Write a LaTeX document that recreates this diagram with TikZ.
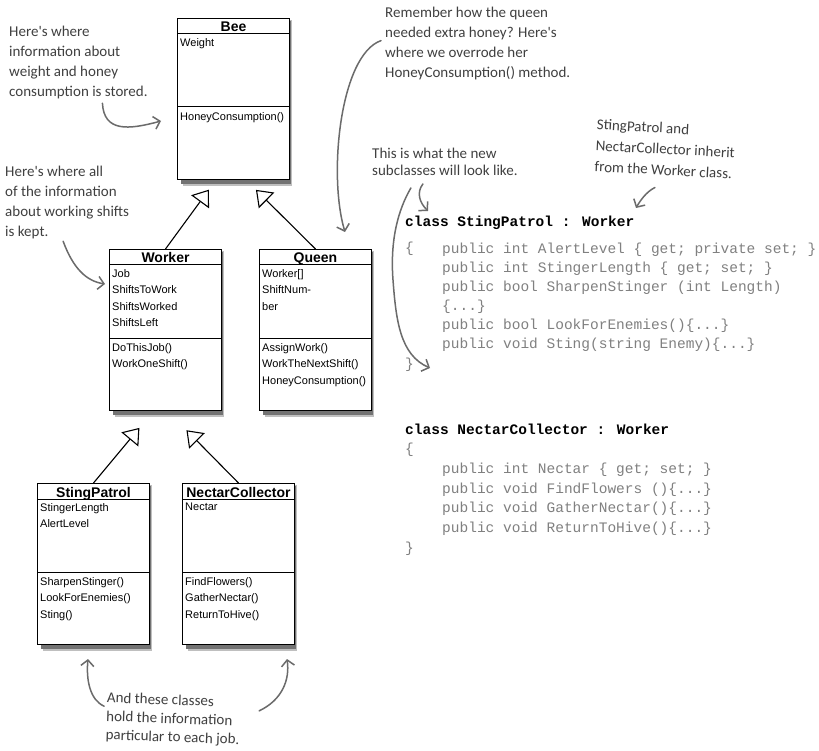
\documentclass[tikz,border=0pt]{standalone}
\usepackage{fontspec}
\setmainfont{Liberation Sans}
\newfontfamily\handfont{Carlito}
\newfontfamily\codefont{Liberation Mono}
\usetikzlibrary{arrows.meta}

\tikzset{
  classbox/.style={draw, line width=1pt, fill=white, anchor=north west, inner sep=0pt,
    minimum width=112pt, minimum height=161pt},
  boxshadow/.style={fill=black!#1},
  classname/.style={font=\fontsize{14}{16}\selectfont\bfseries, anchor=base, inner sep=0pt},
  members/.style={font=\fontsize{11}{16.5}\selectfont, align=left, anchor=north west, inner sep=0pt},
  inherit/.style={line width=1.1pt, -{Triangle[open, length=15pt, width=22pt]}},
  note/.style={font=\handfont\fontsize{15}{20}\selectfont, text=black!75, align=left, anchor=north west, inner sep=0pt},
  pointer/.style={draw=black!58, line width=1.5pt, line cap=round, -{Straight Barb[length=6pt, width=13pt]}},
  codehead/.style={font=\codefont\bfseries\fontsize{14.5}{19}\selectfont, anchor=base west, inner sep=0pt},
  codebody/.style={font=\codefont\fontsize{14.5}{19}\selectfont, text=black!50, align=left, anchor=north west, inner sep=0pt},
  codebrace/.style={font=\codefont\fontsize{14.5}{19}\selectfont, text=black!50, anchor=base west, inner sep=0pt},
}

% one UML class box: name, x, y, title, fields, methods
\newcommand{\umlclass}[6]{%
  \node[classbox] (#1) at (#2,#3) {};
  \begin{pgfonlayer}{shadowlayer}
    \fill[boxshadow=25] ([shift={(2pt,-2pt)}]#1.north east) rectangle ([shift={(6pt,-6pt)}]#1.south west);
    \fill[boxshadow=55] ([shift={(1pt,-3pt)}]#1.north east) rectangle ([shift={(4pt,-4pt)}]#1.south west);
  \end{pgfonlayer}
  \draw[line width=1pt] ([yshift=-16pt]#1.north west) -- ([yshift=-16pt]#1.north east);
  \draw[line width=1pt] ([yshift=-89pt]#1.north west) -- ([yshift=-89pt]#1.north east);
  \node[classname] (#1-title) at ([yshift=-14pt]#1.north) {#4};
  \node[members] (#1-fields) at ([shift={(3pt,-20pt)}]#1.north west) {#5};
  \node[members] (#1-methods) at ([shift={(3pt,-94pt)}]#1.north west) {#6};
}

\pgfdeclarelayer{paper}
\pgfdeclarelayer{shadowlayer}
\pgfsetlayers{paper,shadowlayer,main}

\begin{document}
\begin{tikzpicture}[x=1pt,y=-1pt]
  \useasboundingbox (0,0) rectangle (819,751);
  \begin{pgfonlayer}{paper}
    \fill[white] (0,0) rectangle (819,751);
  \end{pgfonlayer}

  % class diagram
  \umlclass{bee}{177}{18}{Bee}{Weight}{HoneyConsumption()}
  \umlclass{worker}{109}{249}{Worker}{Job\\ShiftsToWork\\ShiftsWorked\\ShiftsLeft}{DoThisJob()\\WorkOneShift()}
  \umlclass{queen}{259}{249}{Queen}{Worker[]\\ShiftNum-\\ber}{AssignWork()\\WorkTheNextShift()\\HoneyConsumption()}
  \umlclass{sting}{37}{483}{StingPatrol}{StingerLength\\AlertLevel}{SharpenStinger()\\LookForEnemies()\\Sting()}
  \umlclass{nectar}{182}{483}{NectarCollector}{Nectar}{FindFlowers()\\GatherNectar()\\ReturnToHive()}

  \draw[inherit, shorten >=12pt] (worker.north) -- ([xshift=-17.5pt]bee.south);
  \draw[inherit, shorten >=14pt] (queen.north) -- ([xshift=12.5pt]bee.south);
  \draw[inherit, shorten >=22pt] (sting.north) -- ([xshift=-12pt]worker.south);
  \draw[inherit, shorten >=27pt] (nectar.north) -- ([xshift=2pt]worker.south);

  % code
  \node[codehead] (spcode) at (405,227) {class StingPatrol : Worker};
  \node[codebrace] (spopen) at (405,253) {\{};
  \node[codebody] (spbody) at (442,243) {public int AlertLevel \{ get; private set; \}\\
    public int StingerLength \{ get; set; \}\\
    public bool SharpenStinger (int Length)\\
    \{...\}\\
    public bool LookForEnemies()\{...\}\\
    public void Sting(string Enemy)\{...\}};
  \node[codebrace] (spclose) at (405,368) {\}};

  \node[codehead] (nccode) at (405,434) {class NectarCollector : Worker};
  \node[codebrace] (ncopen) at (405,453) {\{};
  \node[codebody, font=\codefont\fontsize{14.5}{19.5}\selectfont] (ncbody) at (442,463) {public int Nectar \{ get; set; \}\\
    public void FindFlowers ()\{...\}\\
    public void GatherNectar()\{...\}\\
    public void ReturnToHive()\{...\}};
  \node[codebrace] (ncclose) at (405,552) {\}};

  % notes
  \node[note] (noteBee) at (9,26) {Here's where\\information about\\weight and honey\\consumption is stored.};
  \node[note] (noteWorker) at (5,166) {Here's where all\\of the information\\about working shifts\\is kept.};
  \node[note] (noteQueen) at (385,7) {Remember how the queen\\needed extra honey? Here's\\where we overrode her\\HoneyConsumption() method.};
  \node[note, font=\handfont\fontsize{15}{17}\selectfont] (noteSub) at (372,148) {This is what the new\\subclasses will look like.};
  \node[note, font=\handfont\fontsize{15}{21}\selectfont, rotate=-3] (noteInherit) at (597,119) {StingPatrol and\\NectarCollector inherit\\from the Worker class.};
  \node[note, font=\handfont\fontsize{15}{18.5}\selectfont, rotate=-2] (noteJobs) at (107,692) {And these classes\\hold the information\\particular to each job.};

  \coordinate (beeTip) at (161,121);
  \coordinate (workerTip) at (105,284);
  \coordinate (queenTip) at (345,232);
  \coordinate (subTip) at (428,211);
  \coordinate (braceTip) at (430,368);
  \coordinate (inheritTip) at (636,208);
  \coordinate (jobsLeftTip) at (88,659);
  \coordinate (jobsRightTip) at (287,659);

  \draw[pointer] ([xshift=24pt,yshift=-4pt]noteBee.south) .. controls (104,132) and (128,130) .. (beeTip);
  \draw[pointer] ([xshift=-4pt,yshift=-2pt]noteWorker.south) .. controls (73,268) and (86,281) .. (workerTip);
  \draw[pointer] ([shift={(-4pt,3pt)}]noteQueen.west) .. controls (340,55) and (328,175) .. (queenTip);
  \draw[pointer] ([xshift=-22pt,yshift=-8pt]noteSub.south) .. controls (416,193) and (420,203) .. (subTip);
  \draw[pointer] ([xshift=-34pt,yshift=-12pt]noteSub.south) .. controls (398,210) and (390,240) .. (393,280)
    .. controls (396,320) and (400,355) .. (braceTip);
  \draw[pointer] ([shift={(-9pt,-12pt)}]noteInherit.south) .. controls (646,192) and (640,201) .. (inheritTip);
  \draw[pointer] ([shift={(-2pt,11pt)}]noteJobs.west) .. controls (90,700) and (86,680) .. (jobsLeftTip);
  \draw[pointer] ([shift={(19pt,11pt)}]noteJobs.east) .. controls (282,700) and (290,680) .. (jobsRightTip);
\end{tikzpicture}
\end{document}
